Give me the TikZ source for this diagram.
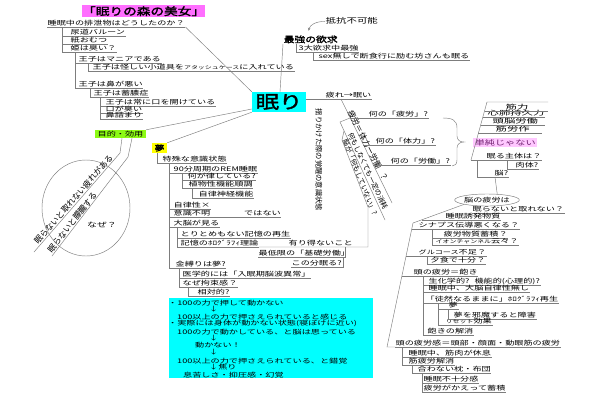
\documentclass[tikz,border=0pt]{standalone}
\usepackage{fontspec}
\usetikzlibrary{shapes.geometric,arrows.meta}
\newfontfamily\jp[FakeStretch=1.45]{Noto Sans CJK JP}
\newfontfamily\jpw[FakeStretch=1.8]{Noto Sans CJK JP}
\newfontfamily\jpr{Noto Sans CJK JP}
\newfontfamily\jpb[FakeStretch=1.3,FakeBold=2]{Noto Sans CJK JP}
\newcommand\smkana{\fontsize{4.8}{5}\selectfont}
\definecolor{ttl}{RGB}{255,110,255}
\definecolor{grn}{RGB}{140,250,20}
\definecolor{pnk}{RGB}{255,200,255}
\definecolor{pur}{RGB}{110,30,110}
\definecolor{lnc}{RGB}{125,125,125}
\definecolor{cy}{RGB}{0,255,255}
\definecolor{yl}{RGB}{255,255,0}
\begin{document}
\begin{tikzpicture}[x=1pt,y=-1pt,
  ln/.style={draw=lnc,line width=0.45pt},
  tx/.style={anchor=south west,inner xsep=0.5pt,inner ysep=0.5pt,text height=5pt,text depth=0.8pt,font=\jp\fontsize{6.3}{6.5}\selectfont},
  it/.style={tx,append after command={(\tikzlastnode.south west) edge[ln] (\tikzlastnode.south east)}},
  rt/.style={inner sep=0.5pt,font=\jpr\fontsize{7.3}{8}\selectfont},
  bx/.style={anchor=west,inner sep=0pt,font=\jp\fontsize{6.3}{6.5}\selectfont},
  wd/.style={tx,font=\jpw\fontsize{6.3}{6.5}\selectfont},
]
\fill[white] (0,0) rectangle (600,400);
\useasboundingbox (0,0) rectangle (600,400);

% ---------- centre ----------
\node[fill=cy,minimum width=54pt,minimum height=20pt,inner sep=0pt,font=\jpb\fontsize{18}{18}\selectfont] (C) at (279,102) {眠り};

% ---------- title branch ----------
\node[fill=ttl,anchor=north west,minimum width=121pt,minimum height=12pt,inner sep=0pt,font=\jpb\fontsize{10.5}{11}\selectfont] (T) at (82,5) {「眠りの森の美女」};
\node[it] (a0) at (47,27) {睡眠中の排泄物はどうしたのか？};
\node[it] (a1) at (70,36) {尿道バルーン};
\node[it] (a2) at (70,44) {紙おむつ};
\node[it] (a3) at (70,52) {姫は臭い？};
\node[it] (a4) at (78,63) {王子はマニアである};
\node[it] (a5) at (92,71) {王子は怪しい小道具を{\smkana アタッシュケース}に入れている};
\node[it] (a6) at (78,88) {王子は鼻が悪い};
\node[it] (a7) at (93,97) {王子は蓄膿症};
\node[it] (a8) at (105,106) {王子は常に口を開けている};
\node[it] (a9) at (105,113) {口が臭い};
\node[it] (a10) at (105,119) {鼻詰まり};
\draw[ln] ([xshift=15pt]a0.south west) |- (a1.south west);
\draw[ln] ([xshift=15pt]a0.south west) |- (a2.south west);
\draw[ln] ([xshift=15pt]a0.south west) |- (a3.south west);
\draw[ln] ([xshift=5pt]a3.south west) |- (a4.south west);
\draw[ln] ([xshift=5pt]a3.south west) |- (a6.south west);
\draw[ln] ([xshift=10pt]a4.south west) |- (a5.south west);
\draw[ln] ([xshift=12pt]a6.south west) |- (a7.south west);
\draw[ln] ([xshift=7pt]a7.south west) |- (a8.south west);
\draw[ln] ([xshift=7pt]a7.south west) |- (a9.south west);
\draw[ln] ([xshift=7pt]a7.south west) |- (a10.south west);
\draw[ln] (a0.south east) -- (C.north west);

% ---------- top branch ----------
\node[tx,font=\jpb\fontsize{8.3}{9}\selectfont,text height=7pt] (M) at (283,44) {最強の欲求};
\node[tx,font=\jp\fontsize{7.2}{8}\selectfont] (K) at (325,25) {抵抗不可能};
\draw[ln,-{Stealth[length=3pt,width=2.5pt]}] (K.west) .. controls +(-9,0) and +(1,-6) .. ([xshift=-2pt,yshift=4pt]M.north);
\node[it] (m1) at (298,52) {3大欲求中最強};
\node[it] (m2) at (318,60) {sex無しで断食行に励む坊さんも眠る};
\draw[ln] ([xshift=13pt]M.south west) |- (m1.south west);
\draw[ln] ([xshift=15pt]m1.south west) |- (m2.south west);
\draw[ln] ([xshift=1pt]C.north) -- (M.south west);

% ---------- right branch ----------
\node[it] (r1) at (325,99) {疲れ→眠い};
\draw[ln] ([yshift=3pt]C.east) -- (r1.south west);
\node[rt,rotate=-90] (v1) at (319,160) {揺りかけた際の覚醒の意識状態};

\coordinate (b0) at (341,99);
\coordinate (b1) at (392,203);
\draw[ln] (b0) -- (b1);
\node[rt,rotate=-63,font=\jpr\fontsize{8}{9}\selectfont] (d1) at (368,146) {疲労＝体力ー労働\hspace{6pt}？};
\coordinate (e1) at (350,118);
\coordinate (e2) at (363,145);
\coordinate (e3) at (373,165);
\node[it] (q1) at (368,118) {何の「疲労」?};
\node[it] (q2) at (375,145) {何の「体力」?};
\node[it] (q3) at (390,165) {何の「労働」?};
\draw[ln] (e1) -- (q1.south west);
\draw[ln] (e2) -- (q2.south west);
\draw[ln] (e3) -- (q3.south west);
\coordinate (g0) at (340,122);
\coordinate (g1) at (385,220);
\draw[ln] (e1) -- (g0) -- (g1);
\node[rt,rotate=-65,font=\jpr\fontsize{7}{8}\selectfont] (d2) at (368,171) {何もしなくても一定の消耗};
\node[rt,rotate=-68,font=\jpr\fontsize{7}{8}\selectfont] (d3) at (360,177) {脳が「何もしていない」?};
\coordinate (h0) at (344,131);
\coordinate (h1) at (342,140);
\coordinate (h2) at (368,207);
\coordinate (h3) at (368,247);

% brace and "not simple"
\draw[ln] (443,118) .. controls (452,118) and (457,120) .. (457,128) -- (457,136) .. controls (457,140) and (460,142) .. (464,142) .. controls (460,142) and (457,144) .. (457,148) -- (457,160) .. controls (457,164) and (455,166) .. (452,166);
\node[fill=pnk,text=pur,anchor=west,minimum width=64pt,minimum height=9pt,inner sep=0pt,font=\jp\fontsize{7}{8}\selectfont] (s) at (473,142.5) {単純じゃない};
\coordinate (f0) at (471,160);
\coordinate (f1) at (487,102);
\draw[ln] (f0) -- (f1) -- (548,102);
\node[wd] (k1) at (505,111) {筋力};
\node[wd] (k2) at (487,117) {心肺持久力};
\node[wd] (k3) at (492,125) {頭脳労働};
\node[wd] (k4) at (495,133) {筋労作};
\draw[ln] (484.5,111) -- (548,111);
\draw[ln] (482.8,117) -- (545,117);
\draw[ln] (480.5,125) -- (545,125);
\draw[ln] (478.3,133) -- (542,133);
\node[it] (w0) at (486,160) {眠る主体は？};
\draw[ln] (f0) -- (w0.south west);
\node[it] (w1) at (515,169) {肉体?};
\node[it] (w2) at (494,177) {脳?};
\draw[ln] ([xshift=21pt]w0.south west) |- (w1.south west);
\draw[ln] ([xshift=-9pt]w0.south west) |- (w2.south west);

% ---------- brain fatigue tree ----------
\node[draw=lnc,line width=0.45pt,ellipse,minimum width=50pt,minimum height=12pt,inner sep=0pt,font=\jp\fontsize{6.3}{6.5}\selectfont] (E) at (487,200) {脳の疲労は};
\draw[ln] ([xshift=1pt]w2.south west) -- (E.30);
\node[it] (E2) at (472,213) {眠らないと取れない？};
\coordinate (bk1) at (413,223);
\coordinate (bk2) at (387,347);
\node[it] (c1) at (445,220) {睡眠誘発物質};
\node[it] (c2) at (418,229) {シナプス伝導悪くなる？};
\node[it] (c2a) at (443,238) {疲労物質蓄積？};
\node[it] (c2b) at (435,245) {{\smkana イオンチャンネル}云々？};
\node[it] (c3) at (418,256) {{\fontsize{5.6}{6}\selectfont グルコース}不足？};
\node[it] (c3a) at (430,264) {夕食で十分？};
\node[it] (c4) at (413,276) {頭の疲労＝飽き};
\node[it] (c4a) at (428,285) {生化学的?\hspace{5pt}機能的(心理的)?};
\node[it] (c4b) at (428,292) {睡眠中、大脳自律性無し};
\node[it] (c4c) at (425,303) {「徒然なるままに」ﾎﾛｸﾞﾗﾌｨ再生};
\node[it] (c4c1) at (448,309) {夢};
\node[it] (c4c1a) at (453,319) {夢を邪魔すると障害};
\node[it] (c4c2) at (445,325) {{\smkana リセット}効果};
\node[it] (c4d) at (427,335) {飽きの解消};
\node[it] (c5) at (395,347) {頭の疲労感＝頭部・顔面・動眼筋の疲労};
\node[it] (c5a) at (408,357) {睡眠中、筋肉が休息};
\node[it] (c5b) at (408,365) {筋疲労解消};
\node[it] (c5b1) at (417,373) {合わない枕・布団};
\node[it] (c5b1a) at (423,383) {睡眠不十分感};
\node[it] (c5b1b) at (423,392) {疲労がかえって蓄積};
\draw[ln] (E.south west) -- (bk1) -- (bk2) -- (c5.south west);
\coordinate (j1) at (421.8,220);
\coordinate (j2) at (411.7,229);
\coordinate (j3) at (406.1,256);
\coordinate (j4) at (401.9,276);
\draw[ln] (j1) -- (c1.south west);
\draw[ln] (j2) -- (c2.south west);
\draw[ln] (j3) -- (c3.south west);
\draw[ln] (j4) -- (c4.south west);
\draw[ln] ([xshift=14pt]c2.south west) |- (c2a.south west);
\draw[ln] ([xshift=14pt]c2.south west) |- (c2b.south west);
\draw[ln] ([xshift=9pt]c3.south west) |- (c3a.south west);
\draw[ln] ([xshift=10pt]c4.south west) |- (c4a.south west);
\draw[ln] ([xshift=10pt]c4.south west) |- (c4b.south west);
\draw[ln] ([xshift=10pt]c4.south west) |- (c4c.south west);
\draw[ln] ([xshift=10pt]c4.south west) |- (c4d.south west);
\draw[ln] ([xshift=13pt]c4c.south west) |- (c4c1.south west);
\draw[ln] ([xshift=13pt]c4c.south west) |- (c4c2.south west);
\draw[ln] ([xshift=0.5pt]c4c1.south west) |- (c4c1a.south west);
\draw[ln] ([xshift=7pt]c5.south west) |- (c5a.south west);
\draw[ln] ([xshift=7pt]c5.south west) |- (c5b.south west);
\draw[ln] ([xshift=4pt]c5b.south west) |- (c5b1.south west);
\draw[ln] ([xshift=5pt]c5b1.south west) |- (c5b1a.south west);
\draw[ln] ([xshift=5pt]c5b1.south west) |- (c5b1b.south west);

% ---------- purpose / effect ----------
\node[fill=grn,minimum width=51pt,minimum height=8pt,inner sep=0pt,font=\jp\fontsize{6.3}{6.5}\selectfont] (P) at (120.5,134) {目的・効用};
\draw[ln] ([yshift=-7pt]C.west) -- (P.north east);
\coordinate (l1a) at (120,153);
\coordinate (l1b) at (34,252);
\coordinate (l2a) at (128,157);
\coordinate (l2b) at (52,256);
\draw[ln] ([xshift=1.5pt]P.south) -- (l1a) -- (l1b);
\draw[ln] ([xshift=11.5pt]P.south) -- (l2a) -- (l2b);
\node[rt,rotate=49,font=\jpr\fontsize{8.2}{9}\selectfont] (L1) at (73.5,199.5) {眠らないと取れない疲れがある};
\node[rt,rotate=52,font=\jpr\fontsize{8.2}{9}\selectfont] (L2) at (72.2,222.3) {眠らないと朦朧する};
\draw[ln] (86,208) ellipse [x radius=44pt,y radius=48pt];
\node[font=\jp\fontsize{6.8}{7}\selectfont,inner sep=0pt] (why) at (102,225) {なぜ？};

% ---------- dream ----------
\node[fill=yl,minimum width=15pt,minimum height=10pt,inner sep=0pt,font=\jpb\fontsize{7.5}{8}\selectfont] (Y) at (159.5,148) {夢};
\draw[ln] (C.south west) -- (Y.north east);
\node[it] (y0) at (162,163) {特殊な意識状態};
\draw[ln] ([xshift=-2.5pt]Y.south) |- (y0.south west);
\node[it] (y1) at (173,173) {90分周期のREM睡眠};
\node[it] (y1a) at (187,180) {何が律している?};
\node[it] (y1b) at (188,188) {植物性機能順調};
\node[it] (y1b1) at (198,198) {自律神経機能};
\node[it] (y2) at (173,209) {自律性×};
\node[it] (y3) at (173,217) {意識不明\hspace{34pt}ではない};
\node[it] (y4) at (173,227) {大脳が見る};
\node[it] (y4a) at (180,238) {とりとめもない記憶の再生};
\node[it] (y4b) at (180,247) {記憶のﾎﾛｸﾞﾗﾌｨ理論};
\node[it] (y5) at (175,268) {金縛りは夢?};
\node[it] (y5a) at (182,278) {医学的には「入眠期脳波異常」};
\node[it] (y5b) at (182,287) {なぜ拘束感？};
\node[it] (y5b1) at (197,296) {相対的?};
\draw[ln] ([xshift=7pt]y0.south west) |- (y1.south west);
\draw[ln] ([xshift=7pt]y0.south west) |- (y2.south west);
\draw[ln] ([xshift=7pt]y0.south west) |- (y3.south west);
\draw[ln] ([xshift=7pt]y0.south west) |- (y4.south west);
\draw[ln] ([xshift=7pt]y0.south west) |- (y5.south west);
\draw[ln] ([xshift=9pt]y1.south west) |- (y1a.south west);
\draw[ln] ([xshift=9pt]y1.south west) |- (y1b.south west);
\draw[ln] ([xshift=4pt]y1b.south west) |- (y1b1.south west);
\draw[ln] ([xshift=4pt]y4.south west) |- (y4a.south west);
\draw[ln] ([xshift=4pt]y4.south west) |- (y4b.south west);
\draw[ln] ([xshift=4pt]y5.south west) |- (y5a.south west);
\draw[ln] ([xshift=4pt]y5.south west) |- (y5b.south west);
\draw[ln] ([xshift=6pt]y5b.south west) |- (y5b1.south west);

% impossible / basic labour
\node[tx] (z1) at (288,247) {有り得ないこと};
\node[tx] (z2) at (258,257) {最低限の「基礎労働」};
\node[tx] (z3) at (291,267) {この分眠る?};
\draw[ln] (h0) -- (h1) -- (h2) -- (h3) -- (y4b.south east);
\coordinate (zb1) at (345,247);
\coordinate (zb2) at (343,257);
\draw[ln] (zb1) |- (z2.south west);
\draw[ln] (zb2) |- (z3.south west);

% ---------- cyan note ----------
\node[fill=cy,anchor=north west,minimum width=204pt,minimum height=80pt,inner sep=0pt] (B) at (169,298) {};
\node[bx] (n1) at (168,303) {・100の力で押して動かない};
\node[bx] (n2) at (209,309.5) {↓};
\node[bx] (n3) at (177,317) {100以上の力で押さえられていると感じる};
\node[bx] (n4) at (168,323.5) {・実際には身体が動かない状態(寝ぼけに近い)};
\node[bx] (n5) at (177,332) {100の力で動かしている、と脳は思っている};
\node[bx] (n6) at (209,338.5) {↓};
\node[bx] (n7) at (195,345) {動かない！};
\node[bx] (n8) at (209,352) {↓};
\node[bx] (n9) at (177,361) {100以上の力で押さえられている、と錯覚};
\node[bx] (n10) at (209,367) {↓焦り};
\node[bx] (n11) at (183,375) {息苦しさ・抑圧感・幻覚};
\end{tikzpicture}
\end{document}
